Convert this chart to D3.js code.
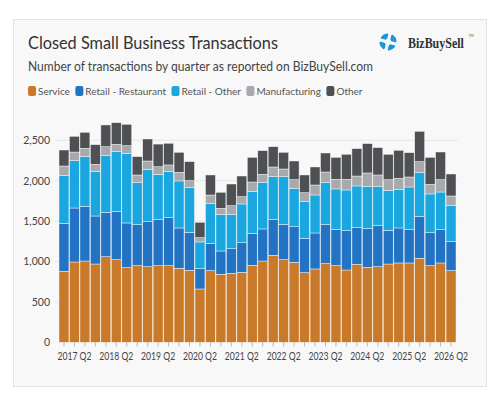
<!DOCTYPE html>
<html>
<head>
<meta charset="utf-8">
<script src="https://cdn.jsdelivr.net/npm/d3@7"></script>
<style>
  body { margin: 0; background: #fff; }
  svg { display: block; font-family: Lato, "Open Sans", sans-serif; }
</style>
</head>
<body>
<div class="chart"></div>
<script>
// quarterly series, 2017 Q1 .. 2026 Q2
var years = [2017, 2018, 2019, 2020, 2021, 2022, 2023, 2024, 2025, 2026];
var tickLabels = ["2017 Q2", "2018 Q2", "2019 Q2", "2020 Q2", "2021 Q2",
  "2022 Q2", "2023 Q2", "2024 Q2", "2025 Q2", "2026 Q2"];
var yTicks = [0, 500, 1000, 1500, 2000, 2500];

var seriesNames = ["Service", "Retail - Restaurant", "Retail - Other", "Manufacturing", "Other"];
var seriesColors = ["#c87a2a", "#2373c4", "#1aa6df", "#a8a9ac", "#4e5053"];

var service = [879, 994, 1006, 969, 1060, 1023, 924, 949, 936, 949, 949, 916, 891, 660, 887, 842, 854, 866, 953,
  1006, 1077, 1023, 990, 862, 908, 974, 949, 895, 965, 928, 936, 969, 982, 982, 1040, 949, 982, 887];
var restaurant = [594, 668, 677, 594, 549, 594, 553, 507, 557, 569, 594, 499, 470, 256, 338, 288, 305, 367, 396,
  397, 441, 437, 441, 425, 445, 486, 445, 487, 454, 479, 512, 417, 433, 412, 519, 408, 412, 359];
var retailOther = [594, 586, 615, 553, 701, 743, 858, 520, 648, 560, 569, 582, 553, 326, 491, 450, 425, 479, 516,
  577, 532, 590, 471, 454, 470, 520, 504, 503, 516, 524, 478, 495, 478, 528, 541, 479, 466, 445];
var manufacturing = [115, 107, 103, 87, 111, 90, 99, 95, 103, 95, 83, 107, 87, 53, 107, 78, 107, 91, 119,
  99, 120, 95, 111, 111, 124, 128, 119, 132, 123, 165, 145, 132, 137, 124, 136, 119, 153, 120];
var other = [198, 194, 198, 243, 269, 268, 264, 227, 272, 280, 268, 247, 235, 190, 248, 198, 268, 255, 305,
  293, 251, 206, 231, 219, 223, 235, 272, 310, 339, 363, 338, 314, 346, 301, 375, 334, 342, 272];

// build quarter names
var quarters = [];
years.forEach(function(yr) {
  [1, 2, 3, 4].forEach(function(q) {
    if (quarters.length < service.length) quarters.push(yr + " Q" + q);
  });
});

var rows = quarters.map(function(q, i) {
  return {
    quarter: q,
    "Service": service[i],
    "Retail - Restaurant": restaurant[i],
    "Retail - Other": retailOther[i],
    "Manufacturing": manufacturing[i],
    "Other": other[i]
  };
});

var svg = d3.select(".chart").append("svg")
  .attr("width", 496)
  .attr("height", 402);

// card
svg.append("rect")
  .attr("x", 13.5).attr("y", 19.5)
  .attr("width", 473).attr("height", 367)
  .attr("fill", "#f8f8f8")
  .attr("stroke", "#e3e3e3");

// title + subtitle
svg.append("text")
  .attr("x", 28).attr("y", 48.5)
  .attr("font-size", 16.5)
  .attr("fill", "#333")
  .attr("textLength", 250).attr("lengthAdjust", "spacingAndGlyphs")
  .text("Closed Small Business Transactions");

svg.append("text")
  .attr("x", 28).attr("y", 70.5)
  .attr("font-size", 12.5)
  .attr("fill", "#444")
  .attr("textLength", 345).attr("lengthAdjust", "spacingAndGlyphs")
  .text("Number of transactions by quarter as reported on BizBuySell.com");

// logo
var logo = svg.append("g").attr("transform", "translate(388,42)");
var petal = d3.arc().innerRadius(3.2).outerRadius(8.6).padAngle(0.35).cornerRadius(1.2);
d3.range(4).forEach(function(i) {
  logo.append("path")
    .attr("d", petal({ startAngle: i * Math.PI / 2 + 0.25, endAngle: (i + 1) * Math.PI / 2 + 0.25 }))
    .attr("fill", "#1b95d6");
});
// brand name squeezed horizontally to the logo's width
var brandG = svg.append("g");
var brand = brandG.append("text")
  .attr("font-family", "'Liberation Serif', 'DejaVu Serif', serif")
  .attr("font-weight", "bold")
  .attr("font-size", 14)
  .attr("fill", "#333")
  .text("BizBuySell");
var sx = 56 / brand.node().getComputedTextLength();
brandG.attr("transform", "translate(408,47.5) scale(" + sx + ",1)");

svg.append("text")
  .attr("x", 468.5).attr("y", 37)
  .attr("font-size", 3.5)
  .attr("fill", "#555")
  .text("TM");

// legend
var legend = svg.append("g").attr("transform", "translate(28,91)");
var lx = 0;
seriesNames.forEach(function(name, i) {
  var item = legend.append("g").attr("transform", "translate(" + lx + ",0)");
  item.append("rect")
    .attr("x", 0).attr("y", -5)
    .attr("width", 8).attr("height", 10)
    .attr("rx", 2)
    .attr("fill", seriesColors[i]);
  var t = item.append("text")
    .attr("x", 10).attr("y", 3.8)
    .attr("font-size", 10)
    .attr("fill", "#555")
    .text(name);
  lx += 10 + t.node().getComputedTextLength() + 5.5;
});

// scales
var x = d3.scaleBand()
  .domain(quarters)
  .range([59, 456])
  .paddingInner(0.05)
  .paddingOuter(0);

var y = d3.scaleLinear()
  .domain([0, 2500])
  .range([342.3, 140.3]);

var color = d3.scaleOrdinal().domain(seriesNames).range(seriesColors);

// gridlines
svg.append("g")
  .selectAll("line")
  .data(yTicks.filter(function(d) { return d > 0; }))
  .enter()
  .append("line")
  .attr("x1", 55).attr("x2", 458)
  .attr("y1", function(d) { return y(d); })
  .attr("y2", function(d) { return y(d); })
  .attr("stroke", "#e6e6e6")
  .attr("stroke-width", 1);

// y axis
var yAxis = svg.append("g")
  .attr("transform", "translate(53,0)")
  .call(d3.axisLeft(y).tickValues(yTicks).tickFormat(d3.format(",")).tickSize(0));
yAxis.select(".domain").remove();
yAxis.selectAll("text")
  .attr("font-family", "Lato, 'Open Sans', sans-serif")
  .attr("font-size", 10.5)
  .attr("fill", "#444");

// bars
var stacked = d3.stack().keys(seriesNames)(rows);

svg.append("g")
  .selectAll("g")
  .data(stacked)
  .enter()
  .append("g")
  .attr("fill", function(d) { return color(d.key); })
  .selectAll("rect")
  .data(function(d) { return d; })
  .enter()
  .append("rect")
  .attr("x", function(d) { return x(d.data.quarter); })
  .attr("width", x.bandwidth())
  .attr("y", function(d) { return y(d[1]); })
  .attr("height", function(d) { return y(d[0]) - y(d[1]); })
  .attr("stroke", "#ffffff")
  .attr("stroke-opacity", 0.7)
  .attr("stroke-width", 0.6);

// x axis: tick on every quarter, label on Q2 only
var xAxis = svg.append("g")
  .attr("transform", "translate(0,342.3)")
  .call(d3.axisBottom(x)
    .tickSize(4)
    .tickPadding(6)
    .tickFormat(function(d) { return tickLabels.indexOf(d) >= 0 ? d : ""; }));
xAxis.select(".domain").remove();
xAxis.selectAll("line").attr("stroke", "#b5b5b5");
xAxis.selectAll("text")
  .filter(function(d) { return tickLabels.indexOf(d) >= 0; })
  .attr("font-family", "Lato, 'Open Sans', sans-serif")
  .attr("font-size", 10.5)
  .attr("fill", "#444")
  .attr("textLength", 34)
  .attr("lengthAdjust", "spacingAndGlyphs");
</script>
</body>
</html>
